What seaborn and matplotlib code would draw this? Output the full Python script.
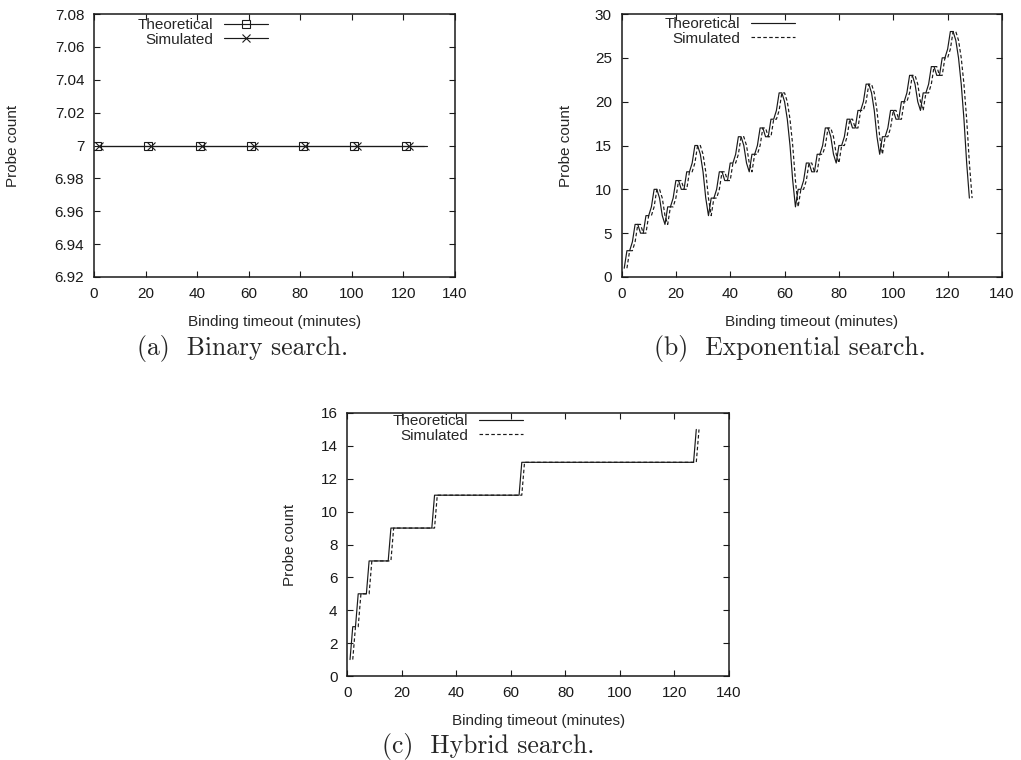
# Probe count vs binding timeout for the three search strategies
import numpy as np
import pandas as pd
import seaborn as sns
import matplotlib.pyplot as plt
from matplotlib.lines import Line2D
from matplotlib.ticker import FuncFormatter

sns.set_theme(style="ticks")
plt.rcParams['font.family'] = ['Liberation Sans', 'DejaVu Sans']

# timeouts in minutes (theoretical), simulated runs sit one minute later
minutes = list(range(1, 129))
sim_minutes = list(range(2, 130))

# (a) binary search: flat at 7 probes
binary_levels = [7]
binary_runs = [128]

# (b) exponential search, one value per minute 1..128
exp_theoretical = [1, 3, 3, 4, 6, 6, 5, 5, 7, 7, 8, 10, 10, 9, 7, 6,
                   8, 8, 9, 11, 11, 10, 10, 12, 12, 13, 15, 15, 14, 12, 9, 7,
                   9, 9, 10, 12, 12, 11, 11, 13, 13, 14, 16, 16, 15, 13, 12, 14,
                   14, 15, 17, 17, 16, 16, 18, 18, 19, 21, 21, 20, 18, 15, 11, 8,
                   10, 10, 11, 13, 13, 12, 12, 14, 14, 15, 17, 17, 16, 14, 13, 15,
                   15, 16, 18, 18, 17, 17, 19, 19, 20, 22, 22, 21, 19, 16, 14, 16,
                   16, 17, 19, 19, 18, 18, 20, 20, 21, 23, 23, 22, 20, 19, 21, 21,
                   22, 24, 24, 23, 23, 25, 25, 26, 28, 28, 27, 25, 22, 18, 13, 9]
# simulated curve reads the same counts
exp_simulated = list(exp_theoretical)

# (c) hybrid search: staircase levels and how many minutes each lasts
hybrid_levels = [1, 3, 5, 7, 9, 11, 13, 15]
hybrid_runs = [1, 2, 4, 8, 16, 32, 64, 1]

binary = np.repeat(binary_levels, binary_runs)
hybrid = np.repeat(hybrid_levels, hybrid_runs)


def make_df(theo, sim):
    return pd.concat([
        pd.DataFrame({'minute': minutes, 'count': theo, 'series': 'Theoretical'}),
        pd.DataFrame({'minute': sim_minutes, 'count': sim, 'series': 'Simulated'}),
    ], ignore_index=True)


df_a = make_df(binary, binary)
df_b = make_df(exp_theoretical, exp_simulated)
df_c = make_df(hybrid, hybrid)

W, H = 1021, 760
fig = plt.figure(figsize=(W / 100, H / 100), dpi=100)


def px_axes(left, top, right, bottom):
    return fig.add_axes([left / W, 1 - bottom / H, (right - left) / W, (bottom - top) / H])


ax_a = px_axes(94, 14, 455, 277)
ax_b = px_axes(621.5, 14, 1002, 277)
ax_c = px_axes(347.3, 413, 729, 676)

LW = 0.85
DASH = (0, (3, 2))
FS = 11

# panel a: lines with markers every 20 points
sns.lineplot(data=df_a[df_a.series == 'Theoretical'], x='minute', y='count', ax=ax_a,
             color='k', lw=LW, marker='s', markersize=6, markerfacecolor='none',
             markeredgecolor='k', markeredgewidth=0.8, markevery=20,
             errorbar=None, legend=False)
sns.lineplot(data=df_a[df_a.series == 'Simulated'], x='minute', y='count', ax=ax_a,
             color='k', lw=LW, marker='x', markersize=6,
             markeredgecolor='k', markeredgewidth=0.8, markevery=20,
             errorbar=None, legend=False)

# panels b and c: solid theoretical, dashed simulated
for ax, df in [(ax_b, df_b), (ax_c, df_c)]:
    sns.lineplot(data=df[df.series == 'Theoretical'], x='minute', y='count', ax=ax,
                 color='k', lw=LW, errorbar=None, legend=False)
    sns.lineplot(data=df[df.series == 'Simulated'], x='minute', y='count', ax=ax,
                 color='k', lw=LW, linestyle=DASH, errorbar=None, legend=False)

ax_a.set_ylim(6.92, 7.08)
ax_a.set_yticks(np.arange(6.92, 7.0801, 0.02))
ax_a.yaxis.set_major_formatter(FuncFormatter(lambda v, p: f'{round(v, 2):g}'))
ax_b.set_ylim(0, 30)
ax_b.set_yticks(range(0, 31, 5))
ax_c.set_ylim(0, 16)
ax_c.set_yticks(range(0, 17, 2))

ylab_x = {ax_a: -0.2244, ax_b: -0.1459, ax_c: -0.150}
for ax in [ax_a, ax_b, ax_c]:
    ax.set_xlim(0, 140)
    ax.set_xticks(range(0, 141, 20))
    ax.tick_params(direction='in', top=True, right=True, length=4, width=0.8,
                   labelsize=FS, pad=7, colors='k')
    for s in ax.spines.values():
        s.set_linewidth(1.1)
        s.set_color('k')
    ax.set_xlabel('Binding timeout (minutes)', fontsize=FS)
    ax.xaxis.label.set_va('center')
    ax.xaxis.set_label_coords(0.5, -0.17)
    ax.set_ylabel('Probe count', fontsize=FS)
    ax.yaxis.label.set_va('center')
    ax.yaxis.set_label_coords(ylab_x[ax], 0.5)

# gnuplot-style keys: text then line sample
leg_a = [Line2D([], [], color='k', lw=LW, marker='s', ms=6, mfc='none', mec='k', mew=0.8),
         Line2D([], [], color='k', lw=LW, marker='x', ms=6, mec='k', mew=0.8)]
leg_bc = [Line2D([], [], color='k', lw=LW),
          Line2D([], [], color='k', lw=LW, linestyle=DASH)]
for ax, handles, right, top in [(ax_a, leg_a, 268, 18), (ax_b, leg_bc, 795, 17),
                                (ax_c, leg_bc, 523, 414)]:
    ax.legend(handles, ['Theoretical', 'Simulated'], loc='upper right',
              bbox_to_anchor=(right / W, 1 - top / H), bbox_transform=fig.transFigure,
              frameon=False, markerfirst=False, fontsize=FS, borderpad=0,
              borderaxespad=0, handlelength=2.9, handletextpad=0.7, labelspacing=0.05)

# subfigure captions
for x, y, txt in [(243, 348, '(a)  Binary search.'), (790, 348, '(b)  Exponential search.'),
                  (488, 747, '(c)  Hybrid search.')]:
    fig.text(x / W, 1 - y / H, txt, family='cmr10', fontsize=18.5, ha='center', va='center')

fig.savefig('out.png', dpi=100)
